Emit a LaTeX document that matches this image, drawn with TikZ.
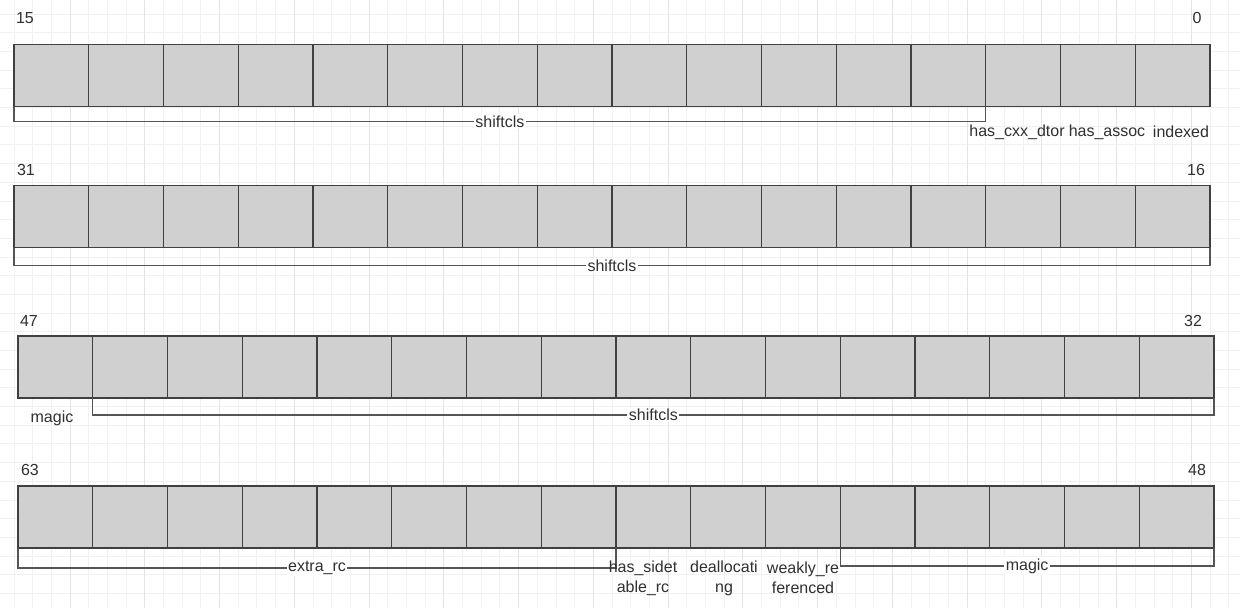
\documentclass[tikz,border=0pt]{standalone}
\usepackage{fontspec}
\setmainfont{Liberation Sans}
\definecolor{cellfill}{HTML}{D0D0D0}
\definecolor{cellline}{HTML}{404040}
\definecolor{braceline}{HTML}{555555}
\definecolor{txt}{HTML}{303030}
\definecolor{gridminor}{HTML}{F1F1F1}
\definecolor{gridmajor}{HTML}{E4E4E4}
\begin{document}
\begin{tikzpicture}[x=1pt,y=-1pt,
  cell/.style={draw=cellline, fill=cellfill, line width=1.3pt, minimum width=74.75pt, minimum height=62pt, inner sep=0pt, outer sep=0pt},
  bracket/.style={draw=braceline, line width=1.1pt},
  lbl/.style={text=txt, font=\fontsize{16}{20}\selectfont, inner sep=1pt},
  onl/.style={lbl, fill=white, inner sep=1.5pt},
  gminor/.style={draw=gridminor, line width=0.8pt},
  gmajor/.style={draw=gridmajor, line width=0.9pt}]
\useasboundingbox[fill=white] (0,0) rectangle (1240,608);
% background grid
\foreach \i in {0,...,66} {
  \draw[gminor] ({13.9+\i*18.69},0) -- ({13.9+\i*18.69},608);
}
\foreach \i in {0,...,33} {
  \draw[gminor] (0,{14+\i*18.69}) -- (1240,{14+\i*18.69});
}
\foreach \i in {0,...,16} {
  \draw[gmajor] ({-4.76+\i*74.76},0) -- ({-4.76+\i*74.76},608);
}
% cells
\foreach \r/\x/\y in {1/14/75.5, 2/14/216.5, 3/18/367, 4/18/517} {
  \foreach \c in {0,...,15} {
    \node[cell] (r\r c\c) at ({\x+74.75*\c+37.375}, \y) {};
  }
}
% bit numbers
\node[lbl] (n15) at (25,18) {15};
\node[lbl] (n0) at (1197,18) {0};
\node[lbl] (n31) at (26,170) {31};
\node[lbl] (n16) at (1196,170) {16};
\node[lbl] (n47) at (29,321) {47};
\node[lbl] (n32) at (1193,321) {32};
\node[lbl] (n63) at (30,470) {63};
\node[lbl] (n48) at (1197,470) {48};
% row 1
\draw[bracket] (r1c0.south west) -- ++(0,15) -| node[onl, pos=0.25] (s1) {shiftcls} (r1c12.south east);
\node[lbl] (cxx) at (1017,132) {has\_cxx\_dtor};
\node[lbl] (assoc) at (1107,132) {has\_assoc};
\node[lbl] (idx) at (1181,132) {indexed};
% row 2
\draw[bracket] (r2c0.south west) -- ++(0,18) -| node[onl, pos=0.25] (s2) {shiftcls} (r2c15.south east);
% row 3
\draw[bracket] (r3c1.south west) -- ++(0,17) -| node[onl, pos=0.25] (s3) {shiftcls} (r3c15.south east);
\node[lbl] (m3) at (52,418) {magic};
% row 4
\draw[bracket] (r4c0.south west) -- ++(0,20) -| node[onl, pos=0.25] (erc) {extra\_rc} (r4c7.south east);
\draw[bracket] (r4c11.south west) -- ++(0,18) -| node[onl, pos=0.25] (m4) {magic} (r4c15.south east);
\node[lbl, align=center] (hsr) at (643,578) {has\_sidet\\able\_rc};
\node[lbl, align=center] (dea) at (724,578) {deallocati\\ng};
\node[lbl, align=center] (wkr) at (803,578) {weakly\_re\\ferenced};
\end{tikzpicture}
\end{document}
